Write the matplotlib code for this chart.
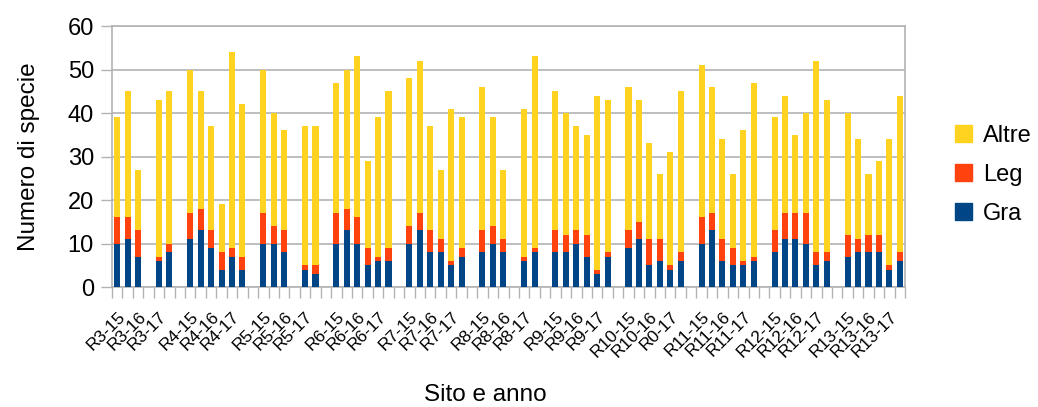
import matplotlib
matplotlib.use("Agg")
import matplotlib.pyplot as plt
import numpy as np
from matplotlib.patches import Patch

plt.rcParams['font.family'] = ['Liberation Sans', 'DejaVu Sans']

# Species counts per plot: 11 sites, 6 plots each (2 per year, 15/16/17)
sites = ["R3", "R4", "R5", "R6", "R7", "R8", "R9", "R10", "R11", "R12", "R13"]
gra = [10, 11, 7, 0, 6, 8,
       11, 13, 9, 4, 7, 4,
       10, 10, 8, 0, 4, 3,
       10, 13, 10, 5, 6, 6,
       10, 13, 8, 8, 5, 7,
       8, 10, 8, 0, 6, 8,
       8, 8, 10, 7, 3, 7,
       9, 11, 5, 6, 4, 6,
       10, 13, 6, 5, 5, 6,
       8, 11, 11, 10, 5, 6,
       7, 8, 8, 8, 4, 6]
leg = [6, 5, 6, 0, 1, 2,
       6, 5, 4, 4, 2, 3,
       7, 4, 5, 0, 1, 2,
       7, 5, 6, 4, 1, 3,
       4, 4, 5, 3, 1, 2,
       5, 4, 3, 0, 1, 1,
       5, 4, 3, 5, 1, 1,
       4, 4, 6, 5, 1, 2,
       6, 4, 5, 4, 1, 1,
       5, 6, 6, 7, 3, 2,
       5, 3, 4, 4, 1, 2]
altre = [23, 29, 14, 0, 36, 35,
         33, 27, 24, 11, 45, 35,
         33, 26, 23, 0, 32, 32,
         30, 32, 37, 20, 32, 36,
         34, 35, 24, 16, 35, 30,
         33, 25, 16, 0, 34, 44,
         32, 28, 24, 23, 40, 35,
         33, 28, 22, 15, 26, 37,
         35, 29, 23, 17, 30, 40,
         26, 27, 18, 23, 44, 35,
         28, 23, 14, 17, 29, 36]
tick_labels = ["R3-15", "R3-16", "R3-17", "R4-15", "R4-16", "R4-17",
               "R5-15", "R5-16", "R5-17", "R6-15", "R6-16", "R6-17",
               "R7-15", "R7-16", "R7-17", "R8-15", "R8-16", "R8-17",
               "R9-15", "R9-16", "R9-17", "R10-15", "R10-16", "R0-17",
               "R11-15", "R11-16", "R11-17", "R12-15", "R12-16", "R12-17",
               "R13-15", "R13-16", "R13-17"]

c_gra, c_leg, c_altre = "#004586", "#ff420e", "#ffd320"
grey = "#b3b3b3"

# each site takes 6 slots plus one empty slot as separator
n_sites = len(sites)
x = np.array([7 * i + j for i in range(n_sites) for j in range(6)])
gra = np.array(gra)
leg = np.array(leg)
altre = np.array(altre)

fig = plt.figure(figsize=(10.38, 4.07), dpi=100)
ax = fig.add_axes([0.1079, 0.2948, 0.764, 0.6413])

w = 0.58
ax.bar(x, gra, w, color=c_gra, zorder=3)
ax.bar(x, leg, w, bottom=gra, color=c_leg, zorder=3)
ax.bar(x, altre, w, bottom=gra + leg, color=c_altre, zorder=3)

ax.set_xlim(-0.5, 75.5)
ax.set_ylim(0, 60)
ax.set_yticks(np.arange(0, 61, 10))
ax.yaxis.grid(True, color=grey, linewidth=1.2, zorder=0)

# labels on the first plot of each year, ticks between slots
label_pos = [7 * i + j for i in range(n_sites) for j in (0, 2, 4)]
ax.set_xticks(label_pos)
ax.set_xticklabels(tick_labels, rotation=45, ha='right', va='top',
                   rotation_mode='anchor', fontsize=12.5)
ax.set_xticks(np.arange(-0.5, 76, 1), minor=True)
ax.tick_params(axis='x', which='major', length=0, pad=16)
ax.tick_params(axis='x', which='minor', length=8, color=grey, width=1)
ax.tick_params(axis='y', length=8, color=grey, width=1, labelsize=17, pad=5)

for s in ax.spines.values():
    s.set_color(grey)
    s.set_linewidth(1.2)

ax.set_ylabel("Numero di specie", fontsize=17.5, labelpad=20)
fig.text(0.468, 0.003, "Sito e anno", fontsize=17.5, ha='center', va='bottom')

handles = [Patch(color=c_altre, label="Altre"),
           Patch(color=c_leg, label="Leg"),
           Patch(color=c_gra, label="Gra")]
fig.legend(handles=handles, loc='center left', bbox_to_anchor=(0.9, 0.57),
           frameon=False, fontsize=17, handlelength=0.72, handleheight=0.72,
           handletextpad=0.45, labelspacing=0.72)

fig.savefig("out.png", dpi=100)
